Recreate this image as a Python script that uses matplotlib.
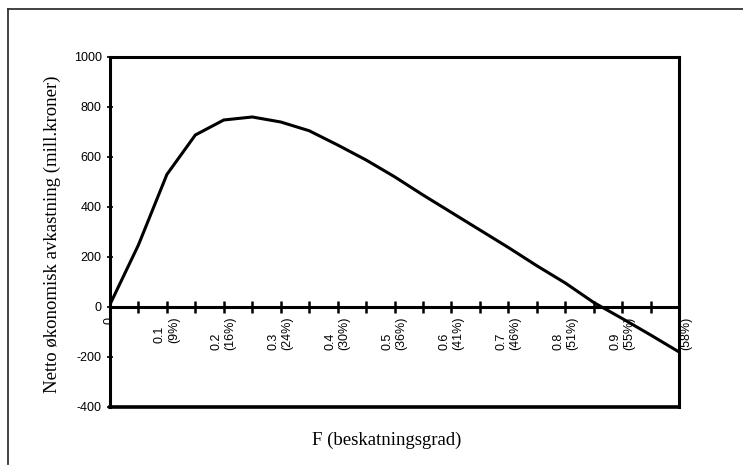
import matplotlib
matplotlib.use('Agg')
import matplotlib.pyplot as plt
from matplotlib.lines import Line2D

# Data
F = [0, 0.05, 0.1, 0.15, 0.2, 0.25, 0.3, 0.35, 0.4, 0.45, 0.5,
     0.55, 0.6, 0.65, 0.7, 0.75, 0.8, 0.85, 0.9, 0.95, 1.0]
netto = [10, 248, 530, 688, 748, 760, 740, 705, 648, 588, 521,
         448, 378, 308, 238, 165, 96, 18, -46, -112, -180]

major_ticks = [0, 0.1, 0.2, 0.3, 0.4, 0.5, 0.6, 0.7, 0.8, 0.9, 1.0]
major_labels = ['0', '0.1\n(9%)', '0.2\n(16%)', '0.3\n(24%)', '0.4\n(30%)',
                '0.5\n(36%)', '0.6\n(41%)', '0.7\n(46%)', '0.8\n(51%)',
                '0.9\n(55%)', '\n(58%)']
minor_ticks = [0.05, 0.15, 0.25, 0.35, 0.45, 0.55, 0.65, 0.75, 0.85, 0.95]
y_ticks = [-400, -200, 0, 200, 400, 600, 800, 1000]

tick_font = ['Liberation Sans Narrow', 'Liberation Sans', 'DejaVu Sans']
label_font = ['Liberation Serif', 'DejaVu Serif']

fig = plt.figure(figsize=(7.43, 4.69), dpi=100)
ax = fig.add_axes([0.148, 0.1322, 0.766, 0.7463])

ax.plot(F, netto, color='black', lw=2.2, solid_joinstyle='round')

ax.set_xlim(0, 1.0)
ax.set_ylim(-400, 1000)

# x axis sits on the zero line
ax.spines['bottom'].set_position(('data', 0))
for s in ax.spines.values():
    s.set_linewidth(2.2)
ax.axhline(-400, color='black', lw=2.6, clip_on=False)

ax.set_xticks(major_ticks)
ax.set_xticklabels(major_labels, rotation=90, family=tick_font, fontsize=9,
                   multialignment='left')
ax.set_xticks(minor_ticks, minor=True)
ax.tick_params(axis='x', which='both', direction='inout', length=8, width=1.8, pad=3)

ax.set_yticks(y_ticks)
ax.set_yticklabels([str(v) for v in y_ticks], family=tick_font, fontsize=9)
ax.tick_params(axis='y', direction='inout', length=4, width=1.2, pad=4)

fig.text(0.07, 0.50, 'Netto økonomisk avkastning (mill.kroner)', rotation=90,
         ha='center', va='center', family=label_font, fontsize=13.5)
fig.text(0.521, 0.062, 'F (beskatningsgrad)', ha='center', va='center',
         family=label_font, fontsize=13.5)

# outer frame of the scanned figure
fig.add_artist(Line2D([8 / 743, 1.0], [1 - 9 / 469, 1 - 9 / 469],
                      transform=fig.transFigure, color='#333333', lw=1.3))
fig.add_artist(Line2D([8 / 743, 8 / 743], [1 - 9 / 469, 0.01],
                      transform=fig.transFigure, color='#333333', lw=1.3))

fig.savefig('out.png', dpi=100)
